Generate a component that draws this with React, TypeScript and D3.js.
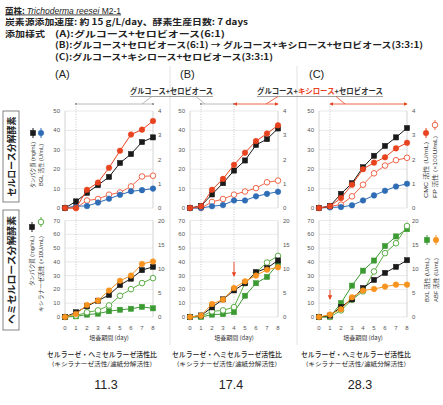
import * as d3 from "d3";
import React from "react";

// culture days on the x axis
const days = [0, 1, 2, 3, 4, 5, 6, 7, 8];

// protein (mg/mL) – left axis, shared by both charts of a panel
const proteinA = [0, 3.4, 7.8, 11.8, 16, 23.2, 27.8, 34, 36.4];
const proteinB = [0, 1.1, 7, 12.8, 19.3, 24.5, 32.5, 35.5, 41];
const proteinC = [0, 1, 7.3, 12.8, 21, 26.9, 32, 36.4, 41.2];

// BGL activity (U/mL) – left axis
const bglA = [0, 1, 1, 2.8, 4.8, 6.8, 8.6, 9.2, 10];
const bglB = [0, 0, 0.9, 1.5, 3.9, 3.9, 6, 7.3, 8.4];
const bglC = [0, 0.3, 0.5, 1.4, 3.9, 6.5, 8.9, 11.1, 12.5];

// CMC activity (U/mL) – right axis 0-4
const cmcA = [0, 0, 0.75, 1.05, 1.66, 2.36, 3.03, 3.23, 3.59];
const cmcB = [0, 0.07, 0.75, 1.2, 1.78, 2.28, 2.76, 3.07, 3.41];
const cmcC = [0, 0.07, 0.41, 0.96, 1.6, 1.87, 2.09, 2.46, 2.69];

// FP activity (x100 U/mL) – right axis 0-4
const fpA = [0, 0, 0.31, 0.37, 0.55, 0.64, 0.89, 1.3, 1.33];
const fpB = [0, 0, 0.25, 0.37, 0.55, 0.68, 0.82, 1.06, 1.13];
const fpC = [0, 0.07, 0.14, 0.48, 0.96, 1.43, 1.75, 1.97, 2.07];

// xylanase activity (x10 U/mL) – left axis 0-70
const xylA = [0, 1, 3.4, 4.8, 8.4, 15.4, 20.2, 24.6, 28.2];
const xylB = [0, 0.5, 4.1, 4.8, 7.2, 24.6, 32.3, 39.5, 44.3];
const xylC = [0, 0, 4.8, 12.5, 18.6, 33, 46.3, 53.5, 66];

// BXL activity (U/mL) – right axis 0-20
const bxlA = [0, 0.14, 0.5, 0.7, 1.2, 1.5, 1.7, 2.1, 1.8];
const bxlB = [0, 0, 0.5, 0.6, 1, 4.4, 7, 8.3, 11];
const bxlC = [0, 0, 2.9, 6.5, 9.6, 11.7, 14.7, 16.7, 18.2];

// ABF activity (U/mL) – right axis 0-20
const abfA = [0, 0.63, 2.5, 3.4, 5.5, 7.5, 8.6, 11, 11.5];
const abfB = [0, 0.3, 2.7, 3.6, 6, 7.4, 8.6, 9.8, 10.3];
const abfC = [0, 0.5, 1.6, 4.1, 5.5, 5.8, 6.3, 6.7, 6.7];

const panelNames = ["(A)", "(B)", "(C)"];
const ratioValues = ["11.3", "17.4", "28.3"];

const topLeftTicks = [0, 10, 20, 30, 40, 50];
const topRightTicks = [0, 1, 2, 3, 4];
const botLeftTicks = [0, 10, 20, 30, 40, 50, 60, 70];
const botRightTicks = [0, 5, 10, 15, 20];

const C = {
  black: "#1a1a1a",
  red: "#e8431f",
  redOpen: "#f0674a",
  blue: "#2e6cb5",
  orange: "#f7931e",
  green: "#3b9a32",
  greenOpen: "#5dae47",
  grid: "#e3e3e3",
  frame: "#c9c9c9",
  tick: "#555",
};

const FONT = "'Liberation Sans','Noto Sans CJK JP',sans-serif";
const JP = "'Noto Sans CJK JP',sans-serif";

const panels = [
  { x0: 65, protein: proteinA, bgl: bglA, cmc: cmcA, fp: fpA, xyl: xylA, bxl: bxlA, abf: abfA, guides: [1], drop: null as number | null },
  { x0: 190, protein: proteinB, bgl: bglB, cmc: cmcB, fp: fpB, xyl: xylB, bxl: bxlB, abf: abfB, guides: [1, 4], drop: 4 },
  { x0: 319, protein: proteinC, bgl: bglC, cmc: cmcC, fp: fpC, xyl: xylC, bxl: bxlC, abf: abfC, guides: [1], drop: 1 },
];

const plotW = 88;
const yTop = d3.scaleLinear().domain([0, 50]).range([208, 111]);
const yTopR = d3.scaleLinear().domain([0, 4]).range([208, 111]);
const yBot = d3.scaleLinear().domain([0, 70]).range([317, 220.5]);
const yBotR = d3.scaleLinear().domain([0, 20]).range([317, 220.5]);

type Shape = "square" | "circle";

function Mark({ shape, x, y, color, open }: { shape: Shape; x: number; y: number; color: string; open?: boolean }) {
  const fill = open ? "#fff" : color;
  if (shape === "square")
    return <rect x={x - 2.6} y={y - 2.6} width={5.2} height={5.2} fill={fill} stroke={color} strokeWidth={open ? 1 : 0.5} />;
  return <circle cx={x} cy={y} r={2.8} fill={fill} stroke={color} strokeWidth={open ? 1 : 0.5} />;
}

function Series({ values, x, y, color, shape, open }: {
  values: number[]; x: d3.ScaleLinear<number, number>; y: d3.ScaleLinear<number, number>;
  color: string; shape: Shape; open?: boolean;
}) {
  const line = d3.line<number>().x((_, i) => x(days[i])).y((d) => y(d));
  return (
    <g>
      <path d={line(values) ?? ""} fill="none" stroke={color} strokeWidth={1} />
      {values.map((v, i) => (
        <Mark key={i} shape={shape} x={x(days[i])} y={y(v)} color={color} open={open} />
      ))}
    </g>
  );
}

function Frame({ x, yL, yR, leftTicks, rightTicks }: {
  x: d3.ScaleLinear<number, number>; yL: d3.ScaleLinear<number, number>; yR: d3.ScaleLinear<number, number>;
  leftTicks: number[]; rightTicks: number[];
}) {
  const [x0, x1] = x.range();
  return (
    <g fontFamily={FONT} fontSize={6} fill={C.tick}>
      {leftTicks.map((t) => (
        <g key={t}>
          <line x1={x0} x2={x1} y1={yL(t)} y2={yL(t)} stroke={C.grid} strokeWidth={0.8} />
          <text x={x0 - 5} y={yL(t) + 2} textAnchor="end">{t}</text>
        </g>
      ))}
      {rightTicks.map((t) => (
        <text key={t} x={x1 + 5} y={yR(t) + 2}>{t}</text>
      ))}
      <line x1={x0} x2={x0} y1={yL.range()[1]} y2={yL.range()[0]} stroke={C.frame} strokeWidth={0.8} />
      <line x1={x1} x2={x1} y1={yL.range()[1]} y2={yL.range()[0]} stroke={C.frame} strokeWidth={0.8} />
    </g>
  );
}

function Panel({ p, idx }: { p: (typeof panels)[number]; idx: number }) {
  const x = d3.scaleLinear().domain([0, 8]).range([p.x0, p.x0 + plotW]);
  const cx = p.x0 + plotW / 2;
  return (
    <g>
      <text x={p.x0 - 10} y={78} fontFamily={FONT} fontSize={11} fill="#222">{panelNames[idx]}</text>

      <Frame x={x} yL={yTop} yR={yTopR} leftTicks={topLeftTicks} rightTicks={topRightTicks} />
      <Frame x={x} yL={yBot} yR={yBotR} leftTicks={botLeftTicks} rightTicks={botRightTicks} />

      {p.guides.map((g) => (
        <line key={g} x1={x(g)} x2={x(g)} y1={104} y2={317} stroke="#b5b5b5" strokeWidth={0.7} strokeDasharray="1 1.5" />
      ))}

      {/* cellulase chart */}
      <Series values={p.fp} x={x} y={yTopR} color={C.redOpen} shape="circle" open />
      <Series values={p.bgl} x={x} y={yTop} color={C.blue} shape="circle" />
      <Series values={p.protein} x={x} y={yTop} color={C.black} shape="square" />
      <Series values={p.cmc} x={x} y={yTopR} color={C.red} shape="circle" />

      {/* hemicellulase chart */}
      <Series values={p.bxl} x={x} y={yBotR} color={C.green} shape="square" />
      <Series values={p.xyl} x={x} y={yBot} color={C.greenOpen} shape="circle" open />
      <Series values={p.protein} x={x} y={yBot} color={C.black} shape="square" />
      <Series values={p.abf} x={x} y={yBotR} color={C.orange} shape="circle" />

      {p.drop !== null && (
        <line x1={x(p.drop)} x2={x(p.drop)} y1={p.drop === 4 ? 262 : 290} y2={p.drop === 4 ? 276 : 299} stroke={C.red} strokeWidth={0.9} markerEnd="url(#redHead)" />
      )}

      <g fontFamily={FONT} fontSize={6} fill={C.tick} textAnchor="middle">
        {days.map((d) => (
          <text key={d} x={x(d)} y={329.5}>{d}</text>
        ))}
        <text x={cx} y={340} fontFamily={JP} fontSize={6} fill="#333">培養期間 (day)</text>
      </g>

      <g fontFamily={JP} textAnchor="middle" fill="#222">
        <text x={cx - 7} y={357} fontSize={7.2} fontWeight={500} textLength={110} lengthAdjust="spacingAndGlyphs">セルラーゼ・ヘミセルラーゼ活性比</text>
        <text x={cx - 7} y={366} fontSize={5.6} textLength={100} lengthAdjust="spacingAndGlyphs">(キシラナーゼ活性/濾紙分解活性)</text>
        <text x={cx - 3} y={389} fontFamily={FONT} fontSize={12.5}>{ratioValues[idx]}</text>
      </g>
    </g>
  );
}

function LegendColumn({ x, markY, shape, color, open, label, textStart, textLen }: {
  x: number; markY: number; shape: Shape; color: string; open?: boolean; label: string; textStart: number; textLen: number;
}) {
  return (
    <g>
      <line x1={x} x2={x} y1={markY - 5} y2={markY + 5} stroke={color} strokeWidth={1} />
      <Mark shape={shape} x={x} y={markY} color={color} open={open} />
      <text transform={`translate(${x + 2},${textStart}) rotate(-90)`} fontFamily={FONT} fontSize={5.2} fill="#333" textLength={textLen} lengthAdjust="spacingAndGlyphs">{label}</text>
    </g>
  );
}

export default function App() {
  const xA = d3.scaleLinear().domain([0, 8]).range([panels[0].x0, panels[0].x0 + plotW]);
  const xB = d3.scaleLinear().domain([0, 8]).range([panels[1].x0, panels[1].x0 + plotW]);
  const xC = d3.scaleLinear().domain([0, 8]).range([panels[2].x0, panels[2].x0 + plotW]);
  const arrowY = 104;

  return (
    <svg width={443} height={405} viewBox="0 0 443 405" style={{ position: "absolute", left: 0, top: 0, background: "#fff" }}>
      <defs>
        <marker id="redHead" viewBox="0 0 6 6" refX="5" refY="3" markerWidth="5" markerHeight="5" orient="auto-start-reverse">
          <path d="M0,0 L6,3 L0,6 z" fill={C.red} />
        </marker>
        <marker id="grayDot" viewBox="0 0 6 6" refX="3" refY="3" markerWidth="3" markerHeight="3">
          <circle cx="3" cy="3" r="3" fill="#999" />
        </marker>
      </defs>
      <rect width={443} height={405} fill="#fff" />

      {/* header */}
      <g fontFamily={JP} fill="#222" fontWeight={700}>
        <text x={5} y={13.5} fontSize={8.5} textDecoration="underline">
          菌株: <tspan fontStyle="italic" fontFamily={FONT} fontWeight={400}>Trichoderma reesei</tspan>
          <tspan fontFamily={FONT} fontWeight={400}> M2-1</tspan>
        </text>
        <text x={5} y={25} fontSize={8.5} textLength={243} lengthAdjust="spacingAndGlyphs">炭素源添加速度: 約 15 g/L/day、酵素生産日数: 7 days</text>
        <text x={5} y={36.5} fontSize={8.5} textLength={40} lengthAdjust="spacingAndGlyphs">添加様式</text>
        <text x={55} y={36.5} fontSize={8.5} textLength={170} lengthAdjust="spacingAndGlyphs">(A):グルコース+セロビオース(6:1)</text>
        <text x={55} y={48} fontSize={8.5} textLength={368} lengthAdjust="spacingAndGlyphs">(B):グルコース+セロビオース(6:1) → グルコース+キシロース+セロビオース(3:3:1)</text>
        <text x={55} y={59.5} fontSize={8.5} textLength={218} lengthAdjust="spacingAndGlyphs">(C):グルコース+キシロース+セロビオース(3:3:1)</text>
      </g>

      {/* panel separators */}
      <line x1={170} x2={170} y1={66} y2={345} stroke="#e2e2e2" strokeWidth={1} />
      <line x1={297} x2={297} y1={66} y2={345} stroke="#e2e2e2" strokeWidth={1} />

      {/* feeding period annotations */}
      <g fontFamily={JP} fontSize={7.5} fontWeight={700}>
        <text x={130} y={94} fill="#333" textLength={83} lengthAdjust="spacingAndGlyphs">グルコース+セロビオース</text>
        <line x1={130} x2={213} y1={96.5} y2={96.5} stroke="#777" strokeWidth={0.7} />
        <text x={257} y={94} fill="#333" textLength={126} lengthAdjust="spacingAndGlyphs">
          グルコース+<tspan fill={C.red}>キシロース</tspan>+セロビオース
        </text>
        <line x1={257} x2={383} y1={96.5} y2={96.5} stroke="#777" strokeWidth={0.7} />
      </g>
      <g strokeWidth={0.8}>
        <line x1={xA(1)} x2={xA(8)} y1={arrowY} y2={arrowY} stroke="#aaa" markerStart="url(#grayDot)" markerEnd="url(#grayDot)" />
        <line x1={xB(1)} x2={xB(4)} y1={arrowY} y2={arrowY} stroke="#aaa" markerStart="url(#grayDot)" markerEnd="url(#grayDot)" />
        <line x1={142} x2={152} y1={arrowY} y2={96.5} stroke="#aaa" />
        <line x1={205} x2={196} y1={arrowY} y2={96.5} stroke="#aaa" />
        <line x1={xB(4)} x2={xB(8)} y1={arrowY} y2={arrowY} stroke={C.red} markerStart="url(#redHead)" markerEnd="url(#redHead)" />
        <line x1={xC(1)} x2={xC(8)} y1={arrowY} y2={arrowY} stroke={C.red} markerStart="url(#redHead)" markerEnd="url(#redHead)" />
        <line x1={266} x2={278} y1={arrowY} y2={96.5} stroke={C.red} />
        <line x1={345} x2={336} y1={arrowY} y2={96.5} stroke={C.red} />
      </g>

      {/* row titles */}
      <g fontFamily={JP} fontWeight={700} fontSize={9} fill="#222">
        <rect x={3} y={111} width={16} height={91} fill="none" stroke="#666" strokeWidth={0.8} />
        <text transform="translate(14.5,156.5) rotate(-90)" textAnchor="middle" textLength={80} lengthAdjust="spacingAndGlyphs">セルロース分解酵素</text>
        <rect x={3} y={210} width={16} height={120} fill="none" stroke="#666" strokeWidth={0.8} />
        <text transform="translate(14.5,270) rotate(-90)" textAnchor="middle" textLength={108} lengthAdjust="spacingAndGlyphs">ヘミセルロース分解酵素</text>
      </g>

      {/* axis legends, left */}
      <LegendColumn x={33} markY={133} shape="square" color={C.black} label="タンパク質 (mg/mL)" textStart={188} textLen={46} />
      <LegendColumn x={41} markY={133} shape="circle" color={C.blue} label="BGL 活性 (U/mL)" textStart={186} textLen={42} />
      <LegendColumn x={32} markY={227} shape="square" color={C.black} label="タンパク質 (mg/mL)" textStart={286} textLen={50} />
      <LegendColumn x={41} markY={222} shape="circle" color={C.greenOpen} open label="キシラナーゼ活性 (×10U/mL)" textStart={312} textLen={76} />

      {/* axis legends, right */}
      <LegendColumn x={426} markY={133} shape="circle" color={C.red} label="CMC 活性 (U/mL)" textStart={198} textLen={56} />
      <LegendColumn x={435} markY={125} shape="circle" color={C.redOpen} open label="FP 活性 (×100U/mL)" textStart={198} textLen={62} />
      <LegendColumn x={427} markY={240} shape="square" color={C.green} label="BXL 活性 (U/mL)" textStart={302} textLen={44} />
      <LegendColumn x={436} markY={240} shape="circle" color={C.orange} label="ABF 活性 (U/mL)" textStart={302} textLen={44} />

      {panels.map((p, i) => (
        <Panel key={i} p={p} idx={i} />
      ))}
    </svg>
  );
}
